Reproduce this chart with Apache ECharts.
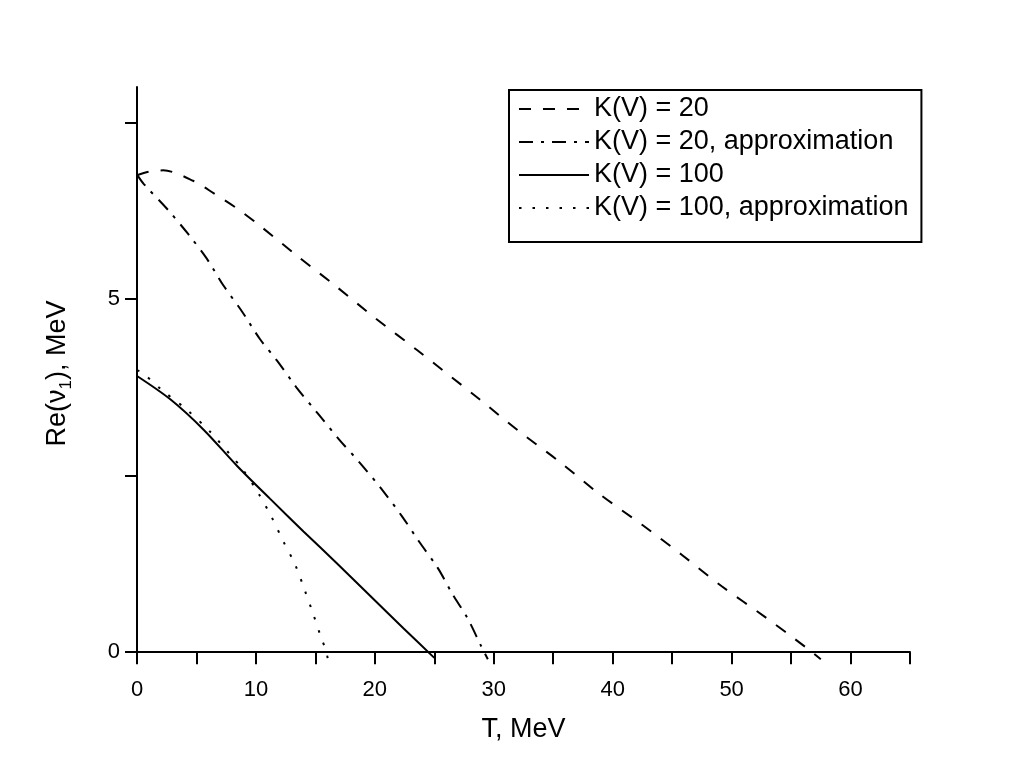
<!DOCTYPE html>
<html>
<head>
<meta charset="utf-8">
<script src="https://cdn.jsdelivr.net/npm/echarts@6/dist/echarts.min.js"></script>
<style>html,body{margin:0;padding:0;background:#fff}#c{width:1024px;height:768px}</style>
</head>
<body>
<div id="c"></div>
<script>
// Data
const seriesNames = ['K(V) = 20', 'K(V) = 20, approximation', 'K(V) = 100', 'K(V) = 100, approximation'];

const k20T = [0, 1, 2.2, 4.76, 6.5, 8.25, 9.93, 13.4, 16.8, 20.1, 23.6, 28.8, 32.1, 35.5, 38.8, 42.5, 45.8, 49.2, 52.8, 56.2, 57.5];
const k20V = [6.75, 6.8, 6.82, 6.67, 6.49, 6.30, 6.09, 5.62, 5.17, 4.72, 4.27, 3.58, 3.13, 2.70, 2.25, 1.80, 1.38, 0.93, 0.50, 0.075, -0.1];

const k20aT = [0, 0.56, 2.5, 4.3, 5.87, 7.27, 8.8, 10.35, 11.9, 13.4, 15.2, 17.0, 18.85, 20.7, 22.3, 23.7, 25.3, 26.5, 27.8, 28.9, 29.5];
const k20aV = [6.76, 6.63, 6.28, 5.92, 5.57, 5.19, 4.83, 4.43, 4.10, 3.75, 3.38, 3.01, 2.66, 2.28, 1.92, 1.57, 1.19, 0.83, 0.48, 0.10, -0.1];

const k100T = [0, 2.8, 5.6, 8.4, 11.2, 14.0, 16.8, 19.6, 22.4, 25.0];
const k100V = [3.91, 3.58, 3.15, 2.64, 2.17, 1.71, 1.26, 0.80, 0.34, -0.08];

const k100aT = [0, 0.42, 2.1, 4.14, 6.15, 7.97, 8.8, 10.2, 11.3, 12.3, 13.3, 14.1, 14.8, 15.5, 15.9, 16.05];
const k100aV = [3.99, 3.96, 3.71, 3.44, 3.12, 2.77, 2.61, 2.25, 1.92, 1.57, 1.24, 0.88, 0.55, 0.20, 0.02, -0.1];

const xTickValues = [0, 5, 10, 15, 20, 25, 30, 35, 40, 45, 50, 55, 60, 65];
const xLabelValues = [0, 10, 20, 30, 40, 50, 60];
const yTickValues = [0, 2.5, 5, 7.5];
const yLabelValues = [0, 5];

function pairs(xs, ys) { return xs.map((x, i) => [x, ys[i]]); }

const FONT = 'Liberation Sans, Arial, sans-serif';
const chart = echarts.init(document.getElementById('c'), null, {renderer: 'canvas'});

const lineStyles = [
  {type: [12, 12], width: 2},
  {type: [14, 8, 3, 8], width: 2},
  {type: 'solid', width: 2},
  {type: [2.5, 11], width: 2}
];
const dataSets = [pairs(k20T, k20V), pairs(k20aT, k20aV), pairs(k100T, k100V), pairs(k100aT, k100aV)];

chart.setOption({
  animation: false,
  backgroundColor: '#fff',
  grid: {left: 137, right: 114, top: 87, bottom: 108, containLabel: false},
  legend: {
    orient: 'vertical',
    left: 509,
    top: 90,
    backgroundColor: '#fff',
    borderColor: '#000',
    borderWidth: 2,
    borderRadius: 0,
    padding: [4, 13, 19, 9],
    itemWidth: 70,
    itemHeight: 14,
    itemGap: 3,
    itemStyle: {opacity: 0},
    textStyle: {fontFamily: FONT, fontSize: 27, lineHeight: 30, color: '#000'},
    data: seriesNames,
    selectedMode: false
  },
  xAxis: {
    type: 'value',
    min: 0, max: 65, interval: 5,
    name: 'T, MeV',
    nameLocation: 'middle',
    nameGap: 56,
    nameTextStyle: {fontFamily: FONT, fontSize: 27, color: '#000'},
    axisLine: {lineStyle: {color: '#000', width: 2}},
    axisTick: {show: true, inside: false, length: 12, lineStyle: {color: '#000', width: 2}, customValues: xTickValues},
    axisLabel: {fontFamily: FONT, fontSize: 22, color: '#000', margin: 19, customValues: xLabelValues},
    splitLine: {show: false}
  },
  yAxis: {
    type: 'value',
    min: -0.11, max: 8,
    name: '{a|Re(ν}{b|1}{a|), MeV}',
    nameLocation: 'middle',
    nameGap: 62,
    nameRotate: 90,
    nameTextStyle: {
      fontFamily: FONT, fontSize: 27, color: '#000',
      rich: {
        a: {fontFamily: FONT, fontSize: 27, color: '#000', lineHeight: 34},
        b: {fontFamily: FONT, fontSize: 17, color: '#000', lineHeight: 14, verticalAlign: 'bottom'}
      }
    },
    axisLine: {show: true, lineStyle: {color: '#000', width: 2}},
    axisTick: {show: true, inside: false, length: 12, lineStyle: {color: '#000', width: 2}, customValues: yTickValues},
    axisLabel: {fontFamily: FONT, fontSize: 22, color: '#000', margin: 17, customValues: yLabelValues},
    splitLine: {show: false}
  },
  series: seriesNames.map((n, i) => ({
    name: n,
    type: 'line',
    data: dataSets[i],
    smooth: 0.3,
    symbol: 'none',
    clip: true,
    lineStyle: Object.assign({color: '#000'}, lineStyles[i]),
    itemStyle: {color: '#000'}
  }))
});
</script>
</body>
</html>
